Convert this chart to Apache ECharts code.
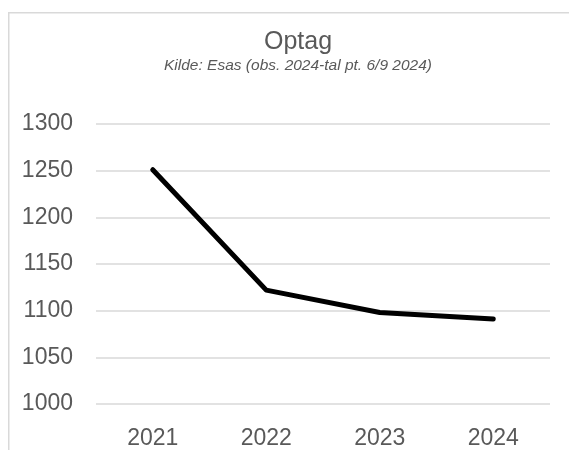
<!DOCTYPE html>
<html><head><meta charset="utf-8">
<script src="https://cdn.jsdelivr.net/npm/echarts@6/dist/echarts.min.js"></script>
<style>html,body{margin:0;padding:0;background:#fff}#c{width:569px;height:450px}</style>
</head><body><div id="c"></div>
<script>
const categories = ['2021', '2022', '2023', '2024'];
const optag = [1251, 1122, 1098, 1091];
const yTicks = { min: 1000, max: 1300, interval: 50 };
const titleText = 'Optag';
const subtitleText = 'Kilde: Esas (obs. 2024-tal pt. 6/9 2024)';

const FONT = 'Liberation Sans, Arial, sans-serif';
const chart = echarts.init(document.getElementById('c'));
chart.setOption({
  animation: false,
  backgroundColor: '#fff',
  textStyle: { fontFamily: FONT },
  graphic: [{
    type: 'rect', left: 8, top: 12, z: -1,
    shape: { width: 600, height: 480 },
    style: { fill: '#fff', stroke: '#d9d9d9', lineWidth: 1.5 }
  }],
  title: {
    text: titleText, subtext: subtitleText, left: 293, textAlign: 'center', top: 25, itemGap: 3,
    textStyle: { fontSize: 25, fontWeight: 'normal', color: '#595959', fontFamily: FONT },
    subtextStyle: { fontSize: 15.5, fontStyle: 'italic', color: '#595959', fontFamily: FONT }
  },
  grid: { left: 96, right: 19, top: 124, bottom: 45, containLabel: false },
  xAxis: {
    type: 'category', data: categories, boundaryGap: true,
    axisLine: { show: false }, axisTick: { show: false },
    axisLabel: { fontSize: 23, color: '#595959', margin: 23 }
  },
  yAxis: {
    type: 'value', min: yTicks.min, max: yTicks.max, interval: yTicks.interval,
    axisLine: { show: false }, axisTick: { show: false },
    axisLabel: { fontSize: 23, color: '#595959', margin: 23, formatter: v => String(v) },
    splitLine: { lineStyle: { color: '#d9d9d9', width: 1.5 } }
  },
  series: [{
    type: 'line', data: optag, showSymbol: false, symbol: 'none',
    lineStyle: { color: '#000', width: 5, cap: 'round', join: 'round' }
  }]
});
</script></body></html>
